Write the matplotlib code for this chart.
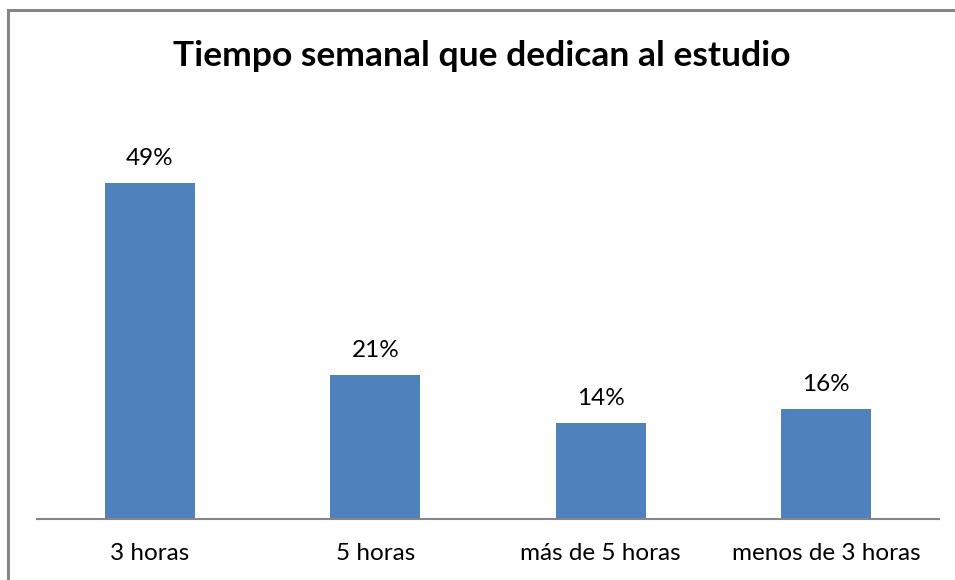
import matplotlib
matplotlib.use("Agg")
import matplotlib.pyplot as plt
from matplotlib.patches import Rectangle

categories = ["3 horas", "5 horas", "más de 5 horas", "menos de 3 horas"]
values = [49, 21, 14, 16]
labels = ["49%", "21%", "14%", "16%"]

W, H = 955, 580
fig = plt.figure(figsize=(W / 100, H / 100), dpi=100)
plt.rcParams['font.family'] = ['Lato', 'DejaVu Sans']

# border
fig.patches.append(Rectangle((8 / W, -0.05), 1.1, 1 - 10 / H + 0.05, transform=fig.transFigure,
                             fill=False, edgecolor="#868686", linewidth=2.2))

ax = fig.add_axes([37 / W, 1 - 519 / H, 902 / W, (519 - 107) / H])
x = range(len(categories))
ax.bar(x, values, width=0.4, color="#4F81BD")
ax.set_xlim(-0.5, 3.5)
ax.set_ylim(0, 60)
for xi, v, l in zip(x, values, labels):
    ax.text(xi, v + 2.0, l, ha="center", va="bottom", fontsize=17.5, color="black")
for s in ["left", "right", "top"]:
    ax.spines[s].set_visible(False)
ax.spines["bottom"].set_color("#868686")
ax.spines["bottom"].set_linewidth(1.5)
ax.set_yticks([])
ax.set_xticks(list(x))
ax.set_xticklabels(categories, fontsize=17.5)
ax.tick_params(axis="x", length=0, pad=17)
fig.text((8 + W) / 2 / W, 1 - 56 / H, "Tiempo semanal que dedican al estudio", ha="center",
         va="center", fontsize=25.5, fontweight="bold")
fig.savefig("out.png", dpi=100)
